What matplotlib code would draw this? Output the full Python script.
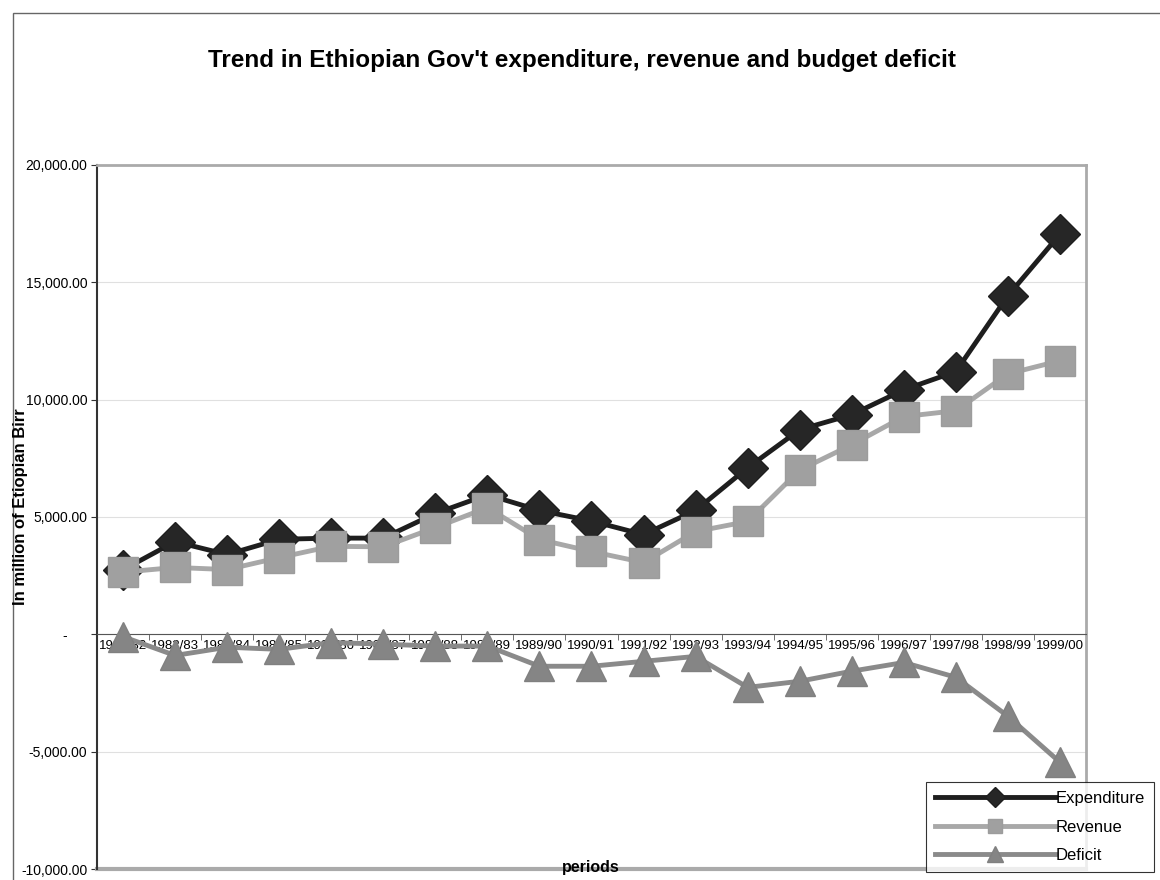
import matplotlib
matplotlib.use("Agg")
import matplotlib.pyplot as plt
from matplotlib.patches import Rectangle
from matplotlib.ticker import FixedLocator, FuncFormatter

plt.rcParams['font.family'] = ['Liberation Sans', 'DejaVu Sans']

periods = ['1981/82', '1982/83', '1983/84', '1984/85', '1985/86', '1986/87',
           '1987/88', '1988/89', '1989/90', '1990/91', '1991/92', '1992/93',
           '1993/94', '1994/95', '1995/96', '1996/97', '1997/98', '1998/99',
           '1999/00']
expenditure = [2750, 3950, 3400, 4050, 4100, 4100, 5150, 5950, 5280, 4830,
               4250, 5280, 7100, 8720, 9360, 10420, 11200, 14430, 17050]
revenue = [2650, 2850, 2760, 3270, 3750, 3730, 4550, 5400, 4040, 3530,
           3060, 4380, 4810, 7000, 8080, 9280, 9530, 11100, 11660]
deficit = [-100, -900, -550, -640, -350, -420, -500, -500, -1360, -1360,
           -1150, -940, -2260, -2000, -1570, -1200, -1830, -3490, -5450]

fig = plt.figure(figsize=(11.6, 8.8), dpi=100)
W, H = 1160, 880
# plot area in pixels: x 97..1086, y 165..869
ax = fig.add_axes([97 / W, 1 - 869 / H, (1086 - 97) / W, (869 - 165) / H])

x = list(range(len(periods)))
ax.plot(x, expenditure, color='#1e1e1e', lw=3.5, marker='D', ms=20,
        mec='#1e1e1e', mfc='#262626', label='Expenditure', zorder=4)
ax.plot(x, revenue, color='#a8a8a8', lw=3.5, marker='s', ms=21,
        mec='#9c9c9c', mfc='#a0a0a0', label='Revenue', zorder=5)
ax.plot(x, deficit, color='#8a8a8a', lw=3.5, marker='^', ms=22,
        mec='#808080', mfc='#858585', label='Deficit', zorder=3)

ax.set_xlim(-0.5, len(periods) - 0.5)
ax.set_ylim(-10000, 20000)
ax.set_yticks(range(-10000, 20001, 5000))
ax.yaxis.set_major_formatter(FuncFormatter(
    lambda v, p: '-     ' if v == 0 else f'{v:,.2f}'))
ax.grid(axis='y', color='#e0e0e0', lw=0.8)
ax.set_axisbelow(True)

ax.spines['bottom'].set_position(('data', 0))
ax.spines['bottom'].set_color('#555555')
ax.spines['left'].set_color('#333333')
ax.spines['left'].set_linewidth(1.5)
for s in ('top', 'right'):
    ax.spines[s].set_color('#aaaaaa')
    ax.spines[s].set_linewidth(2)
ax.axhline(-10000, color='#aaaaaa', lw=3, clip_on=False, zorder=1)

ax.set_xticks(x)
ax.set_xticklabels(periods, fontsize=9.5, family=['Liberation Sans Narrow', 'Liberation Sans'])
ax.xaxis.set_minor_locator(FixedLocator([i - 0.5 for i in range(len(periods) + 1)]))
ax.tick_params(axis='x', which='major', length=0, pad=4)
ax.tick_params(axis='x', which='minor', length=4, direction='out', color='#555555')
ax.tick_params(axis='y', length=4, labelsize=10, color='#333333', pad=3)
for t in ax.get_yticklabels():
    t.set_fontfamily(['Liberation Sans Narrow', 'Liberation Sans'])

fig.text(582 / W, 1 - 60 / H,
         "Trend in Ethiopian Gov't expenditure, revenue and budget deficit",
         ha='center', va='center', fontsize=17.5, fontweight='bold')
fig.text(21 / W, 1 - 507 / H, 'In million of Etiopian Birr', rotation=90,
         ha='center', va='center', fontsize=12, fontweight='bold')
fig.text(591 / W, 1 - 867 / H, 'periods', ha='center', va='center',
         fontsize=11.5, fontweight='bold')

fig.patches.append(Rectangle((13 / W, -0.1), 1.2, 1 - 13 / H + 0.1,
                             transform=fig.transFigure, fill=False,
                             ec='#666666', lw=1))

leg = fig.legend(loc='lower left', bbox_to_anchor=(926 / W, 1 - 872 / H),
                 bbox_transform=fig.transFigure, frameon=True, fancybox=False,
                 edgecolor='black', fontsize=12, handlelength=7.2,
                 handletextpad=0.05, borderpad=0.55, labelspacing=0.8,
                 markerscale=0.5, borderaxespad=0)
leg.get_frame().set_linewidth(0.8)

fig.savefig('out.png', dpi=100, facecolor='white')
